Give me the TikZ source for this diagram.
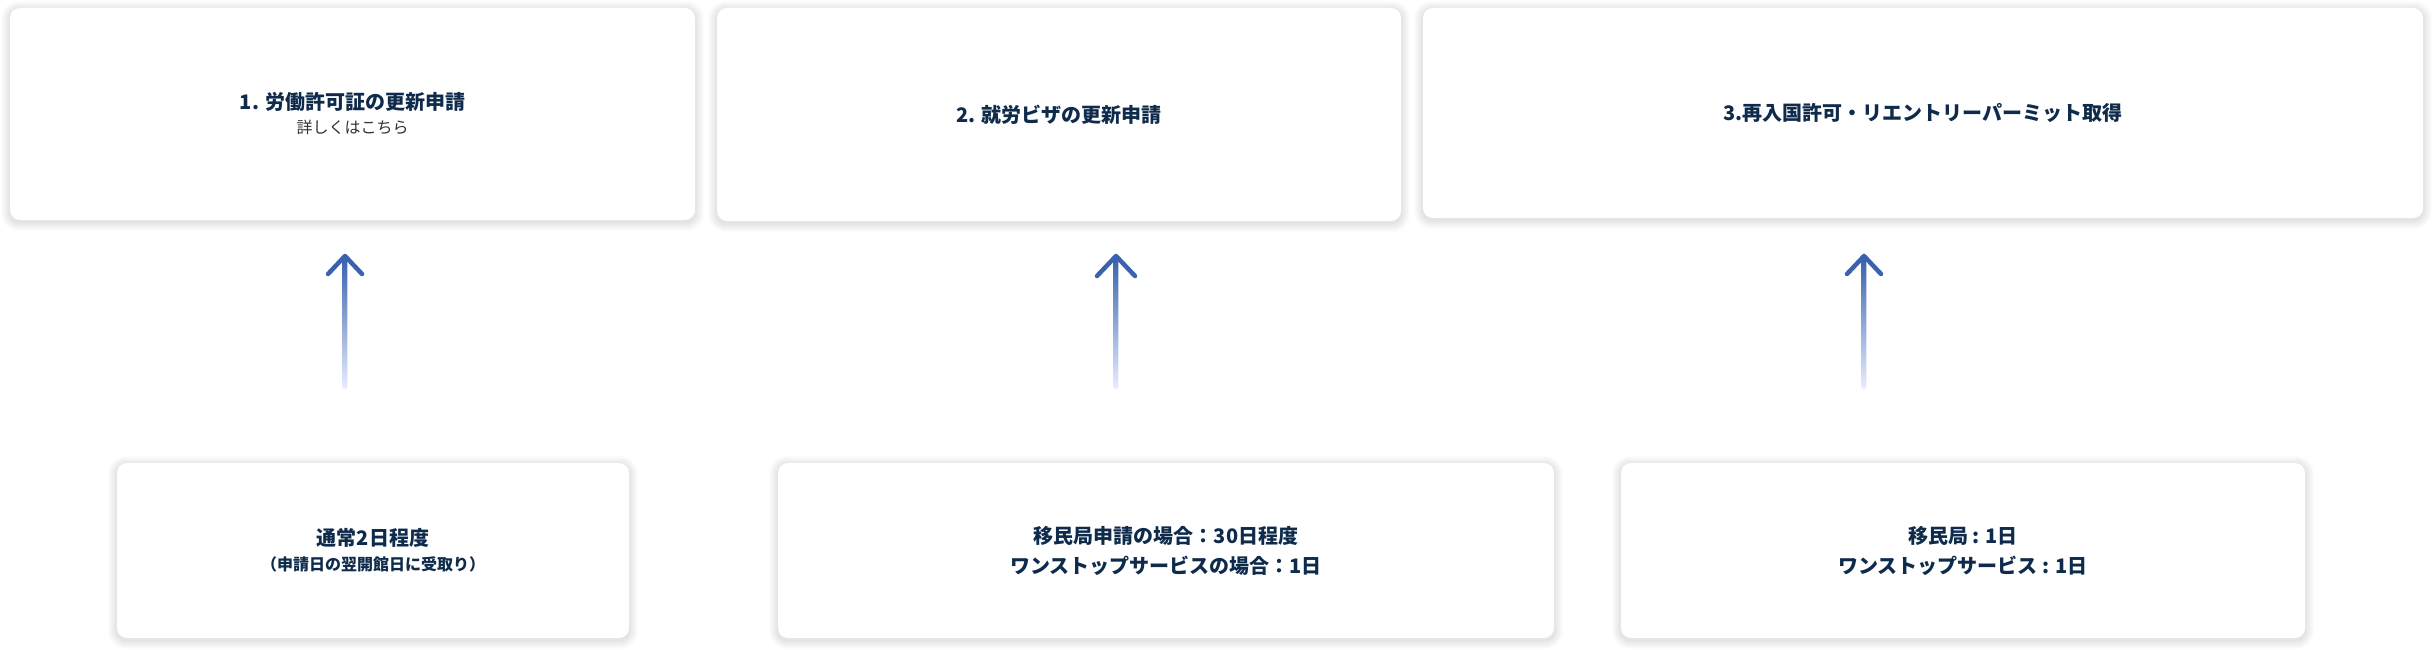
\documentclass[tikz,border=0pt]{standalone}
\usepackage{fontspec}
\setmainfont{Noto Sans CJK JP}
\usetikzlibrary{calc,backgrounds}
\definecolor{navy}{HTML}{0F2B4C}
\definecolor{subgray}{HTML}{333333}
\definecolor{arrowtop}{HTML}{3A62AE}
\definecolor{arrowpale}{HTML}{E8EEFE}
\tikzset{
  card/.style={fill=white, rounded corners=10pt, inner sep=0pt, align=center,
    text=navy, font=\bfseries\fontsize{20}{30}\selectfont},
  shaft/.style={top color=arrowtop, bottom color=arrowpale, rounded corners=2.2pt},
  head/.style={draw=arrowtop, line width=4.5pt, line cap=round, line join=round}
}
\begin{document}
\begin{tikzpicture}[x=1pt,y=-1pt]
        \useasboundingbox (0,0) rectangle (2433,650);
        % top row
        \node[card, minimum width=685, minimum height=212] at (352.5,114) (t1)
          {1. 労働許可証の更新申請\\[-6pt]{\mdseries\color{subgray}\fontsize{16}{20}\selectfont 詳しくはこちら}};
        \node[card, minimum width=684, minimum height=213] at (1059,114.5) (t2) {2. 就労ビザの更新申請};
        \node[card, minimum width=1000, minimum height=210] at (1923,113) (t3) {3.再入国許可・リエントリーパーミット取得};
        % bottom row
        \node[card, minimum width=512, minimum height=175] at (373,550.5) (b1)
          {通常2日程度\\[-5pt]{\fontsize{16}{20}\selectfont （申請日の翌開館日に受取り）}};
        \node[card, minimum width=776, minimum height=175] at (1166,550.5) (b2)
          {移民局申請の場合：30日程度\\ワンストップサービスの場合：1日};
        \node[card, minimum width=684, minimum height=175] at (1963,550.5) (b3)
          {移民局 : 1日\\ワンストップサービス : 1日};
        % soft shadows
        \begin{pgfonlayer}{background}
          \fill[white] (0,0) rectangle (2433,650);
          \foreach \n in {t1,t2,t3,b1,b2,b3}
            \foreach \k in {1,...,9}
              \fill[black, opacity=0.011, rounded corners={10+\k}]
                ($(\n.north west)+(-\k,-\k+2)$) rectangle ($(\n.south east)+(\k,\k+2)$);
        \end{pgfonlayer}
        % arrows
        \coordinate (a1s) at (345,389);
        \coordinate (a1e) at (345,256);
        \coordinate (a2s) at (1116,389);
        \coordinate (a2e) at (1116,256);
        \coordinate (a3s) at (1864,389);
        \coordinate (a3e) at (1864,256);
        \shade[shaft] ($(a1s)+(-2.3,0)$) rectangle ($(a1e)+(2.3,3)$);
        \shade[shaft] ($(a2s)+(-2.3,0)$) rectangle ($(a2e)+(2.3,3)$);
        \shade[shaft] ($(a3s)+(-2.3,0)$) rectangle ($(a3e)+(2.3,3)$);
        \draw[head] ($(a1e)+(-17,18)$) -- (a1e) -- ($(a1e)+(17,18)$);
        \draw[head] ($(a2e)+(-19,20)$) -- (a2e) -- ($(a2e)+(19,20)$);
        \draw[head] ($(a3e)+(-17,18)$) -- (a3e) -- ($(a3e)+(17,18)$);
      \end{tikzpicture}
\end{document}
